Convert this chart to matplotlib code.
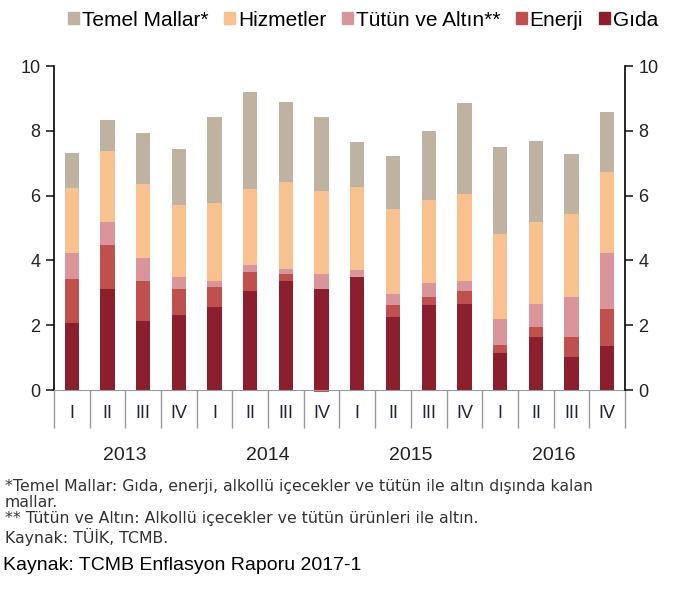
import numpy as np
import matplotlib.pyplot as plt
import matplotlib.transforms as mtransforms
from matplotlib.patches import Patch

# Çeyreklik veriler (yüzde puan katkı)
ceyrekler = ['I', 'II', 'III', 'IV'] * 4
yillar = ['2013', '2014', '2015', '2016']

gida = [2.06, 3.13, 2.14, 2.33, 2.56, 3.06, 3.37, 3.13, 3.50, 2.26, 2.62, 2.64, 1.15, 1.64, 1.03, 1.35]
enerji = [1.37, 1.35, 1.23, 0.79, 0.63, 0.57, 0.20, -0.05, 0.00, 0.36, 0.25, 0.42, 0.25, 0.31, 0.61, 1.15]
tutun_altin = [0.81, 0.72, 0.69, 0.37, 0.18, 0.23, 0.17, 0.44, 0.22, 0.33, 0.44, 0.32, 0.78, 0.72, 1.23, 1.74]
hizmetler = [2.00, 2.18, 2.30, 2.22, 2.39, 2.33, 2.68, 2.57, 2.55, 2.63, 2.57, 2.67, 2.65, 2.52, 2.56, 2.49]
temel_mallar = [1.09, 0.95, 1.56, 1.73, 2.66, 3.00, 2.46, 2.28, 1.38, 1.65, 2.10, 2.80, 2.66, 2.50, 1.87, 1.84]

seriler = [
    ('Gıda', gida, '#8b1f2e'),
    ('Enerji', enerji, '#c0504d'),
    ('Tütün ve Altın**', tutun_altin, '#d9959a'),
    ('Hizmetler', hizmetler, '#f9c18f'),
    ('Temel Mallar*', temel_mallar, '#c0b2a1'),
]

plt.rcParams['font.family'] = ['Liberation Sans', 'DejaVu Sans']

fig = plt.figure(figsize=(6.81, 5.95), dpi=100)
ax = fig.add_axes([0.079, 0.3445, 0.839, 0.5445])

x = np.arange(len(gida))
pos = np.zeros(len(x))
neg = np.zeros(len(x))
for ad, deger, renk in seriler:
    d = np.array(deger)
    alt = np.where(d >= 0, pos, neg)
    ax.bar(x, d, bottom=alt, width=0.4, color=renk, label=ad, clip_on=False, zorder=2)
    pos = pos + np.where(d >= 0, d, 0)
    neg = neg + np.where(d < 0, d, 0)

ax.set_xlim(-0.5, 15.5)
ax.set_ylim(0, 10)
ax.set_yticks(range(0, 11, 2))
ax.tick_params(axis='y', labelsize=13, length=6, width=1.2, colors='#222222')
ax.spines['top'].set_visible(False)
ax.spines['left'].set_linewidth(1.2)
ax.spines['right'].set_visible(False)
ax.spines['bottom'].set_color('#999999')

ax2 = ax.twinx()
ax2.set_ylim(0, 10)
ax2.set_yticks(range(0, 11, 2))
ax2.tick_params(axis='y', labelsize=13, length=6, width=1.2, colors='#222222')
for s in ['top', 'left', 'bottom']:
    ax2.spines[s].set_visible(False)
ax2.spines['right'].set_linewidth(1.2)

# x ekseni: çeyrek ve yıl ayırıcıları
ax.set_xticks(np.arange(-0.5, 16, 1))
ax.set_xticklabels([])
ax.tick_params(axis='x', length=27, width=1, color='#999999', direction='out')
ax.set_xticks([-0.5, 3.5, 7.5, 11.5, 15.5], minor=True)
ax.tick_params(axis='x', which='minor', length=57, width=1, color='#999999')

tr = mtransforms.blended_transform_factory(ax.transData, fig.transFigure)
for i, c in enumerate(ceyrekler):
    ax.text(x[i], 1 - 413 / 595, c, transform=tr, ha='center', va='center',
            fontsize=13, color='#222244')
for j, y in enumerate(yillar):
    ax.text(4 * j + 1.5, 1 - 456 / 595, y, transform=tr, ha='center', va='center',
            fontsize=14, color='#222222')

# Lejant
tutamaclar = [Patch(color=r) for _, _, r in seriler[::-1]]
adlar = [a for a, _, _ in seriler[::-1]]
fig.legend(tutamaclar, adlar, loc='center', bbox_to_anchor=(0.533, 1 - 20 / 595), ncol=5,
           frameon=False, fontsize=15, handlelength=0.55, handleheight=0.55,
           handletextpad=0.12, columnspacing=0.75)

# Dipnotlar
dipnot = ("*Temel Mallar: Gıda, enerji, alkollü içecekler ve tütün ile altın dışında kalan\nmallar.\n"
          "** Tütün ve Altın: Alkollü içecekler ve tütün ürünleri ile altın.\n"
          "Kaynak: TÜİK, TCMB.")
fig.text(5 / 681, 1 - 479 / 595, dipnot, fontsize=11.3, color='#333333', va='top',
         family=['DejaVu Sans'], linespacing=1.1)
fig.text(3 / 681, 1 - 566 / 595, 'Kaynak: TCMB Enflasyon Raporu 2017-1', fontsize=14,
         color='black', va='center')

plt.savefig('out.png', dpi=100)
